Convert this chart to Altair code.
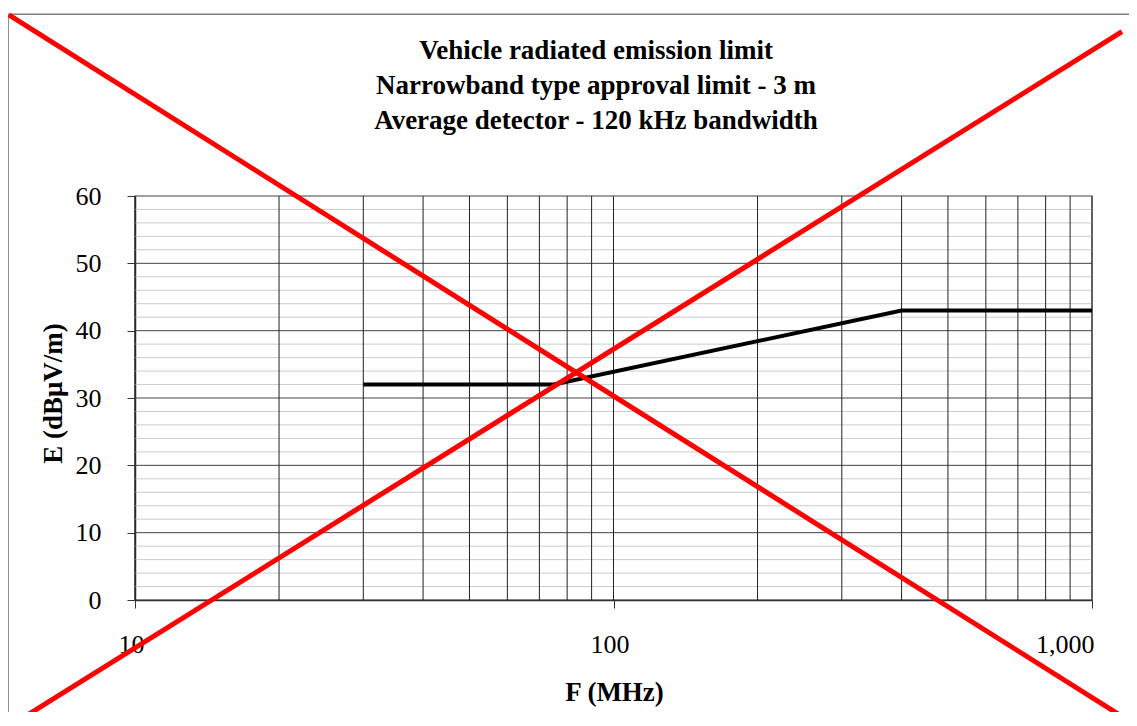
import altair as alt
import pandas as pd

# ---- data ----
TITLE_LINES = [
    "Vehicle radiated emission limit",
    "Narrowband type approval limit - 3 m",
    "Average detector - 120 kHz bandwidth",
]
LIMIT_F = [30, 75, 400, 1000]          # MHz
LIMIT_E = [32, 32, 43, 43]             # dBµV/m

X_TICKS = [10, 100, 1000]
X_GRID = [10, 20, 30, 40, 50, 60, 70, 80, 90,
          100, 200, 300, 400, 500, 600, 700, 800, 900, 1000]
Y_TICKS = [0, 10, 20, 30, 40, 50, 60]
Y_MAJOR_GRID = [10, 20, 30, 40, 50]
Y_MINOR_GRID = [2, 4, 6, 8, 12, 14, 16, 18, 22, 24, 26, 28, 32, 34, 36, 38,
                42, 44, 46, 48, 52, 54, 56, 58]

# red "cancelled" cross, end points in (MHz, dB) units, beyond the plot range
CROSS_ID = ["a", "a", "b", "b"]
CROSS_F = [5.45, 1242, 5.48, 1155]
CROSS_E = [86.9, -18.7, -18.7, 84.4]

# outer chart-area frame (MHz, dB)
FRAME_F = [5.43]
FRAME_F2 = [1230]
FRAME_E = [87.0]
FRAME_E2 = [-30]

SERIF = "Liberation Serif"

xs = alt.Scale(type="log", domain=[10, 1000], nice=False)
ys = alt.Scale(domain=[0, 60], nice=False, zero=False)

x_axis = alt.Axis(
    values=X_TICKS,
    labelExpr="format(datum.value, ',')",
    grid=False,
    tickSize=8,
    tickColor="#333333",
    domainColor="#333333",
    domainWidth=1.5,
    labelFont=SERIF,
    labelFontSize=26,
    labelColor="black",
    labelPadding=44,
    labelBaseline="alphabetic",
    labelFlush=False,
    labelOverlap=False,
    labelAlign={"condition": {"test": "datum.value == 1000", "value": "right"}, "value": "center"},
    labelOffset={"condition": {"test": "datum.value == 1000", "value": 2}, "value": -4},
    title="F (MHz)",
    titleFont=SERIF,
    titleFontSize=27,
    titleFontWeight="bold",
    titleColor="black",
    titleX=479,
    titleY=100,
    titleAlign="center",
    titleBaseline="alphabetic",
)
y_axis = alt.Axis(
    values=Y_TICKS,
    grid=False,
    tickSize=8,
    tickColor="#333333",
    domainColor="#333333",
    domainWidth=1.5,
    labelFont=SERIF,
    labelFontSize=26,
    labelColor="black",
    labelPadding=26,
    labelFlush=False,
    labelOverlap=False,
    title="E (dBμV/m)",
    titleFont=SERIF,
    titleFontSize=27,
    titleFontWeight="bold",
    titleColor="black",
    titleAngle=270,
    titleX=-82,
    titleY=197,
    titleAlign="center",
    titleBaseline="middle",
)

X = alt.X("f:Q", scale=xs, axis=x_axis)
Y = alt.Y("v:Q", scale=ys, axis=y_axis)

limit_df = pd.DataFrame({"f": LIMIT_F, "v": LIMIT_E})
vgrid_df = pd.DataFrame({"f": X_GRID})
hmaj_df = pd.DataFrame({"v": Y_MAJOR_GRID})
hmin_df = pd.DataFrame({"v": Y_MINOR_GRID})
cross_df = pd.DataFrame({"id": CROSS_ID, "f": CROSS_F, "v": CROSS_E})
frame_df = pd.DataFrame({"f": FRAME_F, "f2": FRAME_F2, "v": FRAME_E, "v2": FRAME_E2})
title_df = pd.DataFrame({"k": [0]})

hmin = alt.Chart(hmin_df).mark_rule(color="#cccccc", strokeWidth=1).encode(y=Y)
hmaj = alt.Chart(hmaj_df).mark_rule(color="#444444", strokeWidth=1).encode(y=Y)
vgrid = alt.Chart(vgrid_df).mark_rule(color="#222222", strokeWidth=1).encode(x=X)

limit = alt.Chart(limit_df).mark_line(color="black", strokeWidth=4).encode(x=X, y=Y)

frame = alt.Chart(frame_df).mark_rect(
    fill="transparent", stroke="#808080", strokeWidth=1.5
).encode(x=X, x2="f2:Q", y=Y, y2="v2:Q")

cross = alt.Chart(cross_df).mark_line(color="#ff0000", strokeWidth=5).encode(
    x=X, y=Y, detail="id:N"
)

title = alt.Chart(title_df).mark_text(
    text=TITLE_LINES,
    font=SERIF,
    fontSize=27,
    fontWeight="bold",
    lineHeight=35,
    align="center",
    baseline="alphabetic",
    color="black",
).encode(x=alt.value(461), y=alt.value(-137))

chart = (
    alt.layer(hmin, hmaj, vgrid, limit, frame, cross, title)
    .properties(
        width=957,
        height=404,
        autosize=alt.AutoSizeParams(type="none"),
        padding={"left": 127, "top": 188, "right": 37, "bottom": 112},
        background="white",
    )
    .configure_view(stroke="#808080", strokeWidth=1.5)
)

chart.save("out.html", embed_options={"renderer": "svg", "actions": False})
